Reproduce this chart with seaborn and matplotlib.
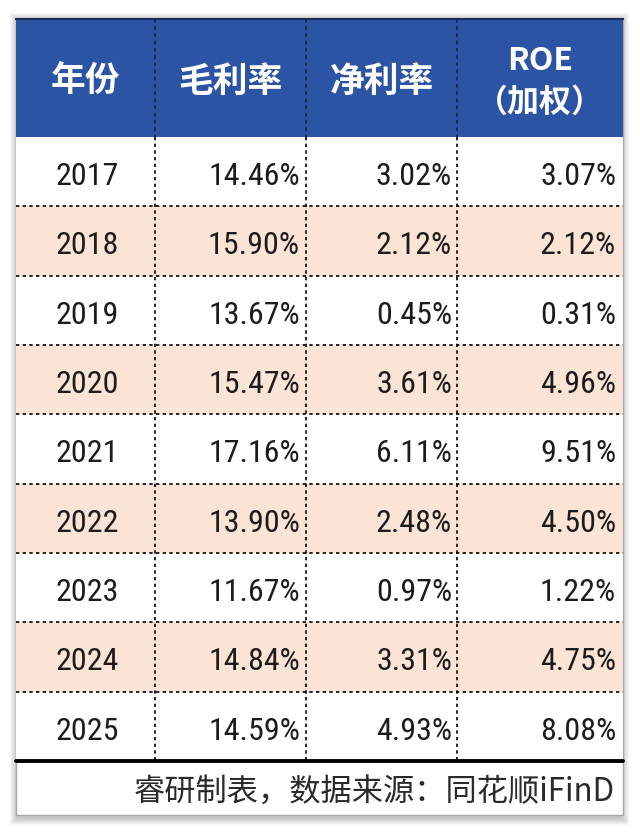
import matplotlib
matplotlib.use("Agg")
import matplotlib.pyplot as plt
from matplotlib.colors import ListedColormap
from matplotlib.patches import Rectangle
from matplotlib import font_manager
import seaborn as sns
import pandas as pd

# table contents
years = ["2017", "2018", "2019", "2020", "2021", "2022", "2023", "2024", "2025"]
gross_margin = [14.46, 15.90, 13.67, 15.47, 17.16, 13.90, 11.67, 14.84, 14.59]
net_margin = [3.02, 2.12, 0.45, 3.61, 6.11, 2.48, 0.97, 3.31, 4.93]
roe_weighted = [3.07, 2.12, 0.31, 4.96, 9.51, 4.50, 1.22, 4.75, 8.08]
headers = ["年份", "毛利率", "净利率", "ROE\n（加权）"]
footnote = "睿研制表，数据来源：同花顺iFinD"

df = pd.DataFrame({
    "年份": years,
    "毛利率": gross_margin,
    "净利率": net_margin,
    "ROE": roe_weighted,
})

sns.set_style("white")
plt.rcParams["font.family"] = ["Noto Sans CJK SC", "DejaVu Sans"]

# pick a narrow face for the numbers
names = {f.name for f in font_manager.fontManager.ttflist}
num_kw = {"family": ["DejaVu Sans"], "fontstretch": "condensed"}
for cand in ["Liberation Sans Narrow", "Roboto Condensed", "Open Sans Condensed"]:
    if cand in names:
        num_kw = {"family": [cand]}
        break

W, H = 640, 833
fig = plt.figure(figsize=(W / 100, H / 100), dpi=100)
fig.patch.set_facecolor("white")


def fx(x):
    return x / W


def fy(y):
    return 1 - y / H


L, R, T, HB, BB, FB = 16, 623, 19, 137, 761, 815
TW = R - L
blue = "#2B54A5"
peach = "#FBE4D5"
ink = "#1c1c1c"

# soft shadow behind the table
for k in range(8, 0, -1):
    fig.patches.append(Rectangle((fx(L - k + 2), fy(FB + k + 2)), fx(TW + 2 * k - 4), (FB - T + 2 * k) / H,
                                 transform=fig.transFigure, facecolor="#707070", alpha=0.06,
                                 edgecolor="none", zorder=-3))
fig.patches.append(Rectangle((fx(L), fy(FB)), fx(TW), (FB - T) / H, transform=fig.transFigure,
                             facecolor="white", edgecolor="#a8a8a8", lw=1, zorder=-2))

# column edges in fraction of table width
col_edges = [0, (155 - L) / TW, (306 - L) / TW, (457 - L) / TW, 1]

# header band
hax = fig.add_axes([fx(L), fy(HB), fx(TW), (HB - T) / H])
hax.set_facecolor(blue)
hax.set_xlim(0, 1)
hax.set_ylim(HB - T, 0)
hax.set_xticks([])
hax.set_yticks([])
for s in hax.spines.values():
    s.set_visible(False)
hax.spines["top"].set_visible(True)
hax.spines["top"].set_color("#1b2b55")
hax.spines["top"].set_linewidth(1.5)

hax.vlines(col_edges[1:-1], 0, HB - T, colors="#15254d", linestyles=(0, (2, 2)), lw=1.3)
for i, h in enumerate(headers):
    cx = (col_edges[i] + col_edges[i + 1]) / 2
    if "\n" in h:
        top, bot = h.split("\n")
        hax.text(cx, 61 - T, top, color="white", fontsize=23, fontweight="bold", ha="center", va="center")
        hax.text(cx, 103 - T, bot, color="white", fontsize=23, fontweight="bold", ha="center", va="center")
    else:
        hax.text(cx, 81 - T, h, color="white", fontsize=25, fontweight="bold", ha="center", va="center")

# body with striped rows
ax = fig.add_axes([fx(L), fy(BB), fx(TW), (BB - HB) / H])
stripes = pd.DataFrame({"s": [i % 2 for i in range(len(df))]})
sns.heatmap(stripes, cmap=ListedColormap(["white", peach]), cbar=False, ax=ax,
            xticklabels=False, yticklabels=False)
ax.set_xlim(0, 1)
ax.set_ylim(len(df), 0)
for s in ax.spines.values():
    s.set_visible(False)

ax.hlines(range(1, len(df)), 0, 1, colors="black", linestyles=(0, (2, 2)), lw=1.2)
ax.vlines(col_edges[1:-1], 0, len(df), colors="black", linestyles=(0, (2, 2)), lw=1.2)
ax.axhline(len(df), color="black", lw=2.8, clip_on=False)

right_x = [(300 - L) / TW, (452 - L) / TW, (616 - L) / TW]
for i, row in df.iterrows():
    y = i + 0.57
    ax.text((87 - L) / TW, y, row["年份"], fontsize=23, color=ink, ha="center", va="center", **num_kw)
    for j, col in enumerate(["毛利率", "净利率", "ROE"]):
        ax.text(right_x[j], y, f"{row[col]:.2f}%", fontsize=23, color=ink,
                ha="right", va="center", **num_kw)

fig.text(fx(615), fy(793), footnote, fontsize=22.5, color="#2a2a2a", ha="right", va="center")

fig.savefig("out.png", dpi=100)
